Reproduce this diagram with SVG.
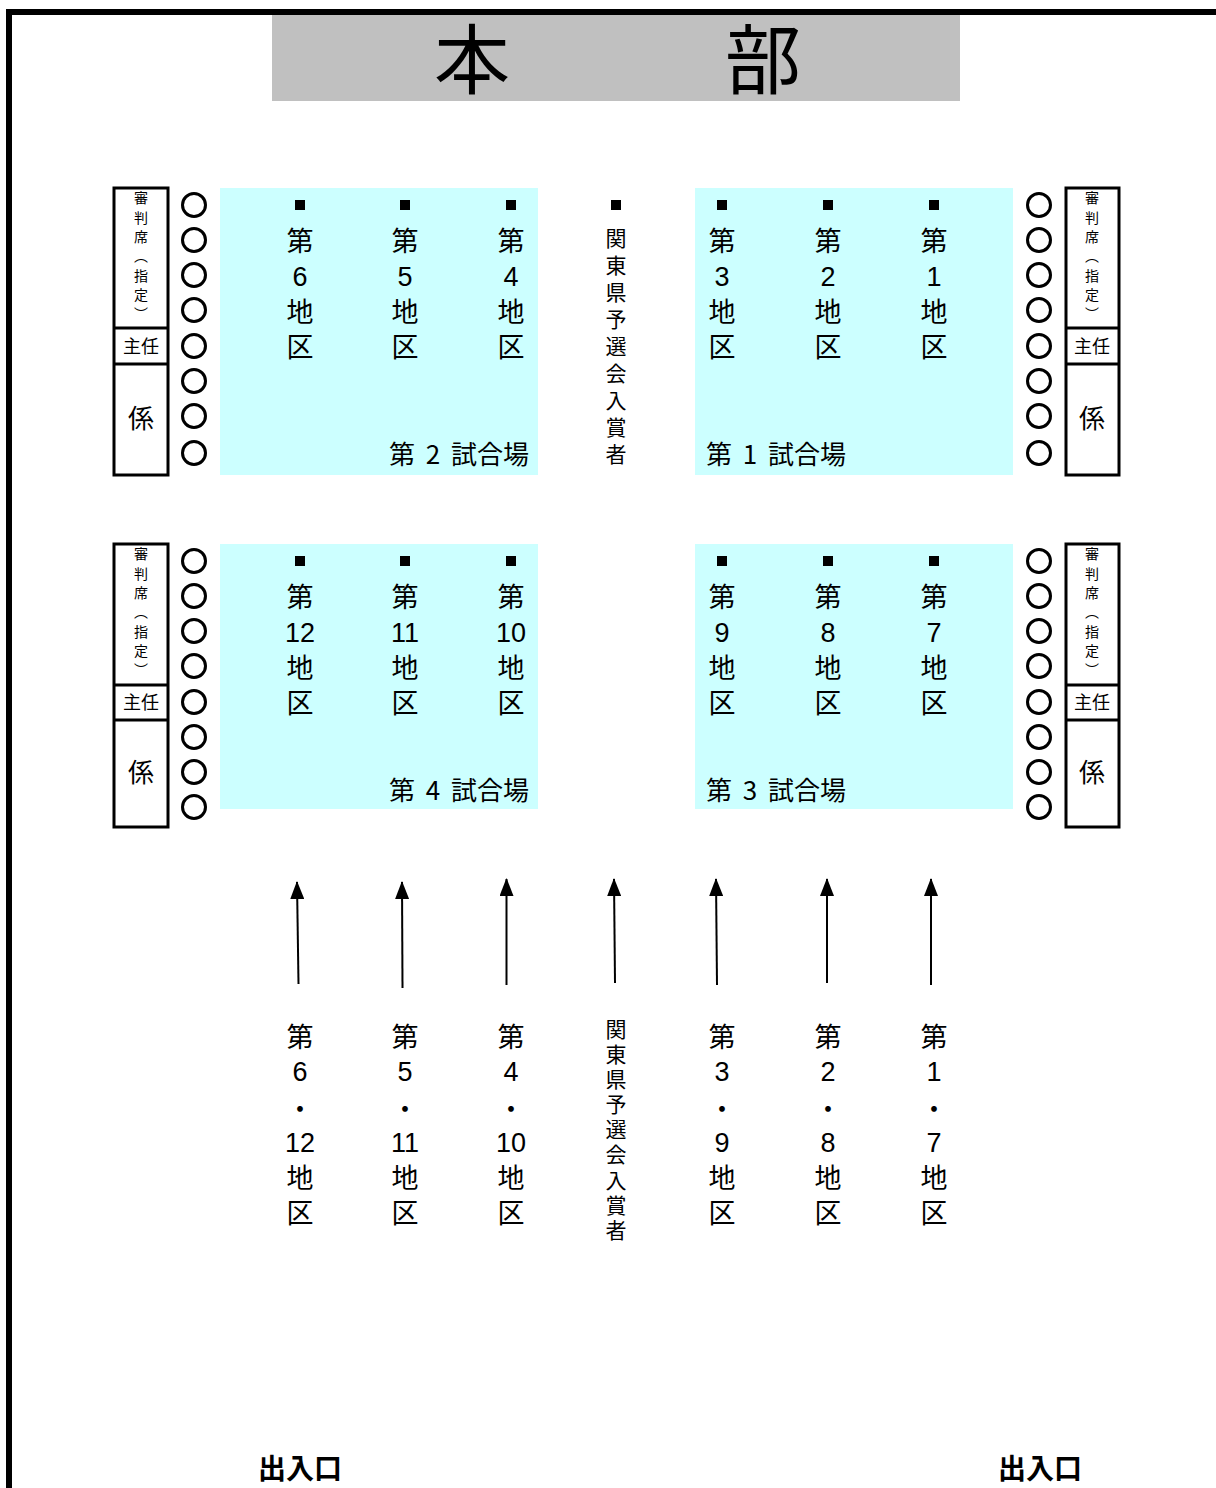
<svg xmlns="http://www.w3.org/2000/svg" width="1216" height="1488" viewBox="0 0 1216 1488">
<defs>
<style>
text{font-family:"Noto Sans CJK JP","Noto Sans",sans-serif;fill:#000;text-anchor:middle;dominant-baseline:central}
.col{font-size:27px}
.dg{font-size:27px;font-family:"Liberation Sans",Arial,sans-serif}
.vc{font-size:27px;writing-mode:vertical-rl;text-anchor:start;letter-spacing:8px}
.vs{font-size:21px;writing-mode:vertical-rl;text-anchor:start}
.vs1{letter-spacing:6px}
.vs2{letter-spacing:4.1px}
.jt{font-size:14px;writing-mode:vertical-rl;text-anchor:start;letter-spacing:5.3px}
.ch{font-size:18px}
.kk{font-size:26px}
.fl{font-size:26px;word-spacing:5px}
.ex{font-size:28px;font-weight:bold}
.field{fill:#CCFFFF}
.jbox{fill:#fff;stroke:#000;stroke-width:3}
.seat{fill:none;stroke:#000;stroke-width:3}
.arr{stroke:#000;stroke-width:2;fill:none}
</style>
<marker id="ah" viewBox="0 0 18 14" refX="17" refY="7" markerWidth="18" markerHeight="14" markerUnits="userSpaceOnUse" orient="auto">
<path d="M0,0 L18,7 L0,14 Z" fill="#000"/>
</marker>
</defs>
<rect width="1216" height="1488" fill="#fff"/>
<g id="border">
<line x1="6" y1="12" x2="1216" y2="12" stroke="#000" stroke-width="6"/>
<line x1="9" y1="9" x2="9" y2="1488" stroke="#000" stroke-width="6"/>
</g>
<g id="honbu">
<rect x="272" y="15" width="688" height="86" fill="#C0C0C0"/>
<text x="472" y="55" style="font-size:76px">本</text>
<text x="763" y="55" style="font-size:76px">部</text>
</g>

<g id="judge-tl">
<rect class="jbox" x="114" y="188" width="54" height="287"/>
<line x1="114" y1="328" x2="168" y2="328" stroke="#000" stroke-width="3"/>
<line x1="114" y1="364" x2="168" y2="364" stroke="#000" stroke-width="3"/>
<text class="jt" x="141" y="191">審判席（指定）</text>
<text class="ch" x="141" y="345">主任</text>
<text class="kk" x="141" y="416">係</text>
</g>
<g id="judge-tr">
<rect class="jbox" x="1066" y="188" width="53" height="287"/>
<line x1="1066" y1="328" x2="1119" y2="328" stroke="#000" stroke-width="3"/>
<line x1="1066" y1="364" x2="1119" y2="364" stroke="#000" stroke-width="3"/>
<text class="jt" x="1092" y="191">審判席（指定）</text>
<text class="ch" x="1092" y="345">主任</text>
<text class="kk" x="1092" y="416">係</text>
</g>
<g id="judge-bl">
<rect class="jbox" x="114" y="544" width="54" height="283"/>
<line x1="114" y1="685" x2="168" y2="685" stroke="#000" stroke-width="3"/>
<line x1="114" y1="720" x2="168" y2="720" stroke="#000" stroke-width="3"/>
<text class="jt" x="141" y="547">審判席（指定）</text>
<text class="ch" x="141" y="701">主任</text>
<text class="kk" x="141" y="770">係</text>
</g>
<g id="judge-br">
<rect class="jbox" x="1066" y="544" width="53" height="283"/>
<line x1="1066" y1="685" x2="1119" y2="685" stroke="#000" stroke-width="3"/>
<line x1="1066" y1="720" x2="1119" y2="720" stroke="#000" stroke-width="3"/>
<text class="jt" x="1092" y="547">審判席（指定）</text>
<text class="ch" x="1092" y="701">主任</text>
<text class="kk" x="1092" y="770">係</text>
</g>

<g id="seats">
<circle class="seat" cx="194" cy="205" r="11.5"/><circle class="seat" cx="194" cy="240" r="11.5"/><circle class="seat" cx="194" cy="275" r="11.5"/><circle class="seat" cx="194" cy="310" r="11.5"/><circle class="seat" cx="194" cy="346" r="11.5"/><circle class="seat" cx="194" cy="381" r="11.5"/><circle class="seat" cx="194" cy="416" r="11.5"/><circle class="seat" cx="194" cy="453" r="11.5"/>
<circle class="seat" cx="1039" cy="205" r="11.5"/><circle class="seat" cx="1039" cy="240" r="11.5"/><circle class="seat" cx="1039" cy="275" r="11.5"/><circle class="seat" cx="1039" cy="310" r="11.5"/><circle class="seat" cx="1039" cy="346" r="11.5"/><circle class="seat" cx="1039" cy="381" r="11.5"/><circle class="seat" cx="1039" cy="416" r="11.5"/><circle class="seat" cx="1039" cy="453" r="11.5"/>
<circle class="seat" cx="194" cy="561" r="11.5"/><circle class="seat" cx="194" cy="596" r="11.5"/><circle class="seat" cx="194" cy="631" r="11.5"/><circle class="seat" cx="194" cy="666" r="11.5"/><circle class="seat" cx="194" cy="702" r="11.5"/><circle class="seat" cx="194" cy="737" r="11.5"/><circle class="seat" cx="194" cy="772" r="11.5"/><circle class="seat" cx="194" cy="807" r="11.5"/>
<circle class="seat" cx="1039" cy="561" r="11.5"/><circle class="seat" cx="1039" cy="596" r="11.5"/><circle class="seat" cx="1039" cy="631" r="11.5"/><circle class="seat" cx="1039" cy="666" r="11.5"/><circle class="seat" cx="1039" cy="702" r="11.5"/><circle class="seat" cx="1039" cy="737" r="11.5"/><circle class="seat" cx="1039" cy="772" r="11.5"/><circle class="seat" cx="1039" cy="807" r="11.5"/>
</g>

<g id="field2">
<rect class="field" x="220" y="188" width="318" height="287"/>
<rect x="295" y="200" width="10" height="10"/><rect x="400" y="200" width="10" height="10"/><rect x="506" y="200" width="10" height="10"/>
<text class="col" x="300" y="239">第</text><text class="dg" x="300" y="277">6</text><text class="vc" x="300" y="298">地区</text>
<text class="col" x="405" y="239">第</text><text class="dg" x="405" y="277">5</text><text class="vc" x="405" y="298">地区</text>
<text class="col" x="511" y="239">第</text><text class="dg" x="511" y="277">4</text><text class="vc" x="511" y="298">地区</text>
<text class="fl" x="459" y="452">第 2 試合場</text>
</g>
<g id="field1">
<rect class="field" x="695" y="188" width="318" height="287"/>
<rect x="717" y="200" width="10" height="10"/><rect x="823" y="200" width="10" height="10"/><rect x="929" y="200" width="10" height="10"/>
<text class="col" x="722" y="239">第</text><text class="dg" x="722" y="277">3</text><text class="vc" x="722" y="298">地区</text>
<text class="col" x="828" y="239">第</text><text class="dg" x="828" y="277">2</text><text class="vc" x="828" y="298">地区</text>
<text class="col" x="934" y="239">第</text><text class="dg" x="934" y="277">1</text><text class="vc" x="934" y="298">地区</text>
<text class="fl" x="776" y="452">第 1 試合場</text>
</g>
<g id="winners-seat">
<rect x="611" y="200" width="10" height="10"/>
<text class="vs vs1" x="616" y="227.5">関東県予選会入賞者</text>
</g>
<g id="field4">
<rect class="field" x="220" y="544" width="318" height="265"/>
<rect x="295" y="556" width="10" height="10"/><rect x="400" y="556" width="10" height="10"/><rect x="506" y="556" width="10" height="10"/>
<text class="col" x="300" y="595">第</text><text class="dg" x="300" y="633">12</text><text class="vc" x="300" y="654">地区</text>
<text class="col" x="405" y="595">第</text><text class="dg" x="405" y="633">11</text><text class="vc" x="405" y="654">地区</text>
<text class="col" x="511" y="595">第</text><text class="dg" x="511" y="633">10</text><text class="vc" x="511" y="654">地区</text>
<text class="fl" x="459" y="788">第 4 試合場</text>
</g>
<g id="field3">
<rect class="field" x="695" y="544" width="318" height="265"/>
<rect x="717" y="556" width="10" height="10"/><rect x="823" y="556" width="10" height="10"/><rect x="929" y="556" width="10" height="10"/>
<text class="col" x="722" y="595">第</text><text class="dg" x="722" y="633">9</text><text class="vc" x="722" y="654">地区</text>
<text class="col" x="828" y="595">第</text><text class="dg" x="828" y="633">8</text><text class="vc" x="828" y="654">地区</text>
<text class="col" x="934" y="595">第</text><text class="dg" x="934" y="633">7</text><text class="vc" x="934" y="654">地区</text>
<text class="fl" x="776" y="788">第 3 試合場</text>
</g>

<g id="connectors">
<line class="arr" x1="298.5" y1="984" x2="297" y2="882" marker-end="url(#ah)"/>
<line class="arr" x1="402.5" y1="988" x2="402" y2="882" marker-end="url(#ah)"/>
<line class="arr" x1="506.5" y1="985" x2="506.5" y2="879" marker-end="url(#ah)"/>
<line class="arr" x1="615" y1="983" x2="614" y2="879" marker-end="url(#ah)"/>
<line class="arr" x1="717" y1="985" x2="716" y2="879" marker-end="url(#ah)"/>
<line class="arr" x1="827" y1="983" x2="827" y2="879" marker-end="url(#ah)"/>
<line class="arr" x1="931" y1="985" x2="931" y2="879" marker-end="url(#ah)"/>
</g>

<g id="entry-labels">
<text class="col" x="300" y="1035">第</text><text class="dg" x="300" y="1072">6</text><text class="col" x="300" y="1107">・</text><text class="dg" x="300" y="1143">12</text><text class="vc" x="300" y="1164">地区</text>
<text class="col" x="405" y="1035">第</text><text class="dg" x="405" y="1072">5</text><text class="col" x="405" y="1107">・</text><text class="dg" x="405" y="1143">11</text><text class="vc" x="405" y="1164">地区</text>
<text class="col" x="511" y="1035">第</text><text class="dg" x="511" y="1072">4</text><text class="col" x="511" y="1107">・</text><text class="dg" x="511" y="1143">10</text><text class="vc" x="511" y="1164">地区</text>
<text class="col" x="722" y="1035">第</text><text class="dg" x="722" y="1072">3</text><text class="col" x="722" y="1107">・</text><text class="dg" x="722" y="1143">9</text><text class="vc" x="722" y="1164">地区</text>
<text class="col" x="828" y="1035">第</text><text class="dg" x="828" y="1072">2</text><text class="col" x="828" y="1107">・</text><text class="dg" x="828" y="1143">8</text><text class="vc" x="828" y="1164">地区</text>
<text class="col" x="934" y="1035">第</text><text class="dg" x="934" y="1072">1</text><text class="col" x="934" y="1107">・</text><text class="dg" x="934" y="1143">7</text><text class="vc" x="934" y="1164">地区</text>
<text class="vs vs2" x="616" y="1018.5">関東県予選会入賞者</text>
</g>

<g id="exits">
<text class="ex" x="300" y="1467">出入口</text>
<text class="ex" x="1040" y="1467">出入口</text>
</g>
</svg>
